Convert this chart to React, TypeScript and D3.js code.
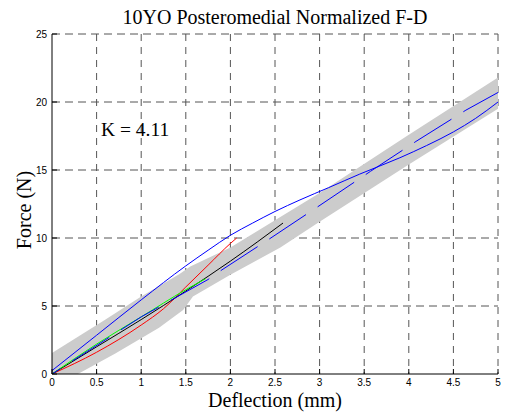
import React from "react";
import * as d3 from "d3";

const W = 505;
const H = 413;

const xTicks = [0, 0.5, 1, 1.5, 2, 2.5, 3, 3.5, 4, 4.5, 5];
const yTicks = [0, 5, 10, 15, 20, 25];

const bandTopX = [0, 0.6, 1.0, 1.43, 1.55, 2.0, 3.0, 4.0, 5.0];
const bandTopY = [1.55, 4.0, 5.7, 7.35, 7.9, 9.3, 13.3, 17.6, 21.8];
const bandBotX = [0, 0.29, 0.71, 1.2, 1.47, 1.58, 2.0, 2.56, 3.0, 4.0, 5.0];
const bandBotY = [-1.2, 0, 1.5, 3.4, 4.7, 5.7, 7.3, 9.3, 11.2, 15.4, 19.5];

const upperX = [0, 0.5, 1.0, 1.5, 1.75, 2.0, 2.25, 2.5, 2.78, 3.1, 3.45, 3.9, 4.2, 4.5, 4.75, 5.0];
const upperY = [0.25, 2.85, 5.45, 7.95, 9.1, 10.2, 11.1, 11.95, 12.8, 13.7, 14.7, 15.9, 16.8, 17.8, 18.8, 20.0];

const redX = [0, 0.5, 1.0, 1.25, 1.5, 1.75, 2.0, 2.07];
const redY = [0, 1.6, 3.6, 4.8, 6.4, 8.0, 9.6, 10.0];

const blackX = [0, 0.5, 1.0, 1.5, 2.0, 2.3, 2.59];
const blackY = [0, 2.0, 4.0, 6.1, 8.3, 9.7, 11.1];

const greenX = [0, 0.5, 1.0, 1.5, 1.72];
const greenY = [0, 2.2, 4.2, 6.2, 7.0];

const meanX = [0, 1.0, 1.75, 1.88, 2.43, 2.98, 3.57, 4.08, 4.64, 5.0];
const meanY = [0, 4.2, 6.95, 7.55, 9.9, 12.3, 14.9, 17.1, 19.4, 20.7];

const zip = (xs: number[], ys: number[]) => xs.map((x, i) => [x, ys[i]] as [number, number]);

export default function App() {
  const x = d3.scaleLinear().domain([0, 5]).range([52, 498]);
  const y = d3.scaleLinear().domain([0, 25]).range([374, 34]);
  const line = d3.line<[number, number]>().x((d) => x(d[0])).y((d) => y(d[1]));
  const smooth = d3
    .line<[number, number]>()
    .x((d) => x(d[0]))
    .y((d) => y(d[1]))
    .curve(d3.curveMonotoneX);

  const bandPts = [...zip(bandTopX, bandTopY), ...zip(bandBotX, bandBotY).reverse()];
  const bandPath = line(bandPts) + "Z";

  const serif = "'Liberation Serif', 'Times New Roman', serif";
  const sans = "'Liberation Sans', Arial, sans-serif";
  const gridColor = "#555";

  const curves: { xs: number[]; ys: number[]; color: string; dash?: string; offset?: number }[] = [
    { xs: redX, ys: redY, color: "#ff0000" },
    { xs: blackX, ys: blackY, color: "#000000" },
    { xs: greenX, ys: greenY, color: "#00ff00" },
    { xs: upperX, ys: upperY, color: "#0000ff" },
    { xs: meanX, ys: meanY, color: "#0000ff", dash: "44 14", offset: 34 },
  ];

  return (
    <svg width={W} height={H} style={{ position: "absolute", left: 0, top: 0, display: "block", background: "#fff" }}>
      <defs>
        <clipPath id="plot">
          <rect x={52} y={34} width={446} height={340} />
        </clipPath>
      </defs>
      <rect x={0} y={0} width={W} height={H} fill="#fff" />
      {xTicks.slice(1).map((t) => (
        <line key={"gx" + t} x1={x(t)} x2={x(t)} y1={y(25)} y2={y(0)} stroke={gridColor} strokeDasharray="7 6" strokeWidth={1} />
      ))}
      {yTicks.slice(1).map((t) => (
        <line key={"gy" + t} x1={x(0)} x2={x(5)} y1={y(t)} y2={y(t)} stroke={gridColor} strokeDasharray="8 5" strokeWidth={1} />
      ))}
      <g clipPath="url(#plot)">
        <path d={bandPath} fill="#cccccc" stroke="none" />
        {curves.map((c, i) => (
          <path
            key={i}
            d={(c.dash ? line : smooth)(zip(c.xs, c.ys)) || ""}
            fill="none"
            stroke={c.color}
            strokeWidth={1}
            strokeDasharray={c.dash}
            strokeDashoffset={c.offset}
          />
        ))}
      </g>
      <line x1={x(0)} x2={x(0)} y1={y(0)} y2={y(25)} stroke="#000" strokeWidth={1} />
      <line x1={x(0)} x2={x(5)} y1={y(0)} y2={y(0)} stroke="#000" strokeWidth={1} />
      {xTicks.map((t) => (
        <g key={"tx" + t}>
          <line x1={x(t)} x2={x(t)} y1={y(0)} y2={y(0) - 5} stroke="#000" />
          <text x={x(t)} y={386} textAnchor="middle" fontFamily={sans} fontSize={10}>
            {t}
          </text>
        </g>
      ))}
      {yTicks.map((t) => (
        <g key={"ty" + t}>
          <line x1={x(0)} x2={x(0) + 5} y1={y(t)} y2={y(t)} stroke="#000" />
          <text x={47} y={y(t) + 3.5} textAnchor="end" fontFamily={sans} fontSize={10}>
            {t}
          </text>
        </g>
      ))}
      <text x={275} y={24} textAnchor="middle" fontFamily={serif} fontSize={20}>
        10YO Posteromedial Normalized F-D
      </text>
      <text x={275} y={407} textAnchor="middle" fontFamily={serif} fontSize={20}>
        Deflection (mm)
      </text>
      <text transform="translate(31,210) rotate(-90)" textAnchor="middle" fontFamily={serif} fontSize={20}>
        Force (N)
      </text>
      <text x={101} y={136} fontFamily={serif} fontSize={19.5}>
        K = 4.11
      </text>
    </svg>
  );
}
